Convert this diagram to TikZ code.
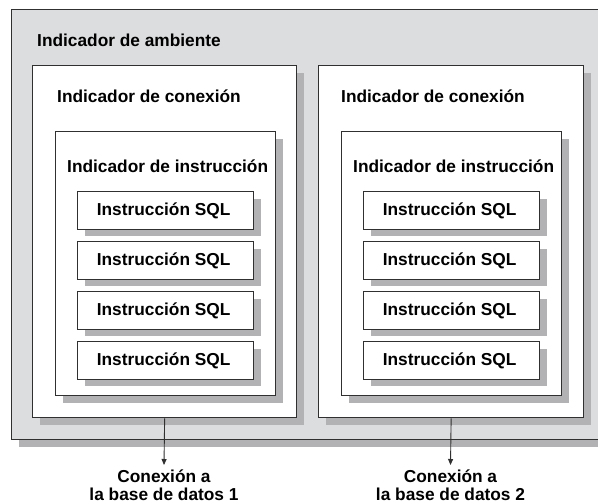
\documentclass[tikz,border=0pt]{standalone}
\usepackage{fontspec}
\setmainfont{Liberation Sans}
\usetikzlibrary{shadows,arrows.meta}
\definecolor{outerfill}{HTML}{DCDDDF}
\definecolor{shadowgray}{HTML}{B2B2B4}
\definecolor{linegray}{HTML}{303030}
\tikzset{
  box/.style={draw=linegray, line width=1.3pt, anchor=north west, inner sep=0pt,
    general shadow={fill=shadowgray, shadow xshift=7pt, shadow yshift=-7pt}},
  whitebox/.style={box, fill=white},
  lbl/.style={font=\fontsize{17.3}{20}\selectfont\bfseries, text=black, inner sep=0pt},
  conn/.style={draw=linegray, line width=0.9pt, -{Triangle[length=6pt,width=5pt]}}
}
\begin{document}
\begin{tikzpicture}[x=1pt,y=-1pt]
\useasboundingbox (0,0) rectangle (598,504);
\clip (0,0) rectangle (598,504);
\fill[white] (0,0) rectangle (598,504);
% outer
\node[box, fill=outerfill, minimum width=610pt, minimum height=430pt] (env) at (11,9) {};
\node[lbl, anchor=base west] (envl) at (37,46) {Indicador de ambiente};
% connections
\node[whitebox, minimum width=264pt, minimum height=352pt] (c1) at (32,65) {};
\node[whitebox, minimum width=265pt, minimum height=352pt] (c2) at (318,65) {};
\node[lbl, anchor=base west] (c1l) at (57,102) {Indicador de conexión};
\node[lbl, anchor=base west] (c2l) at (341,102) {Indicador de conexión};
% instruction boxes
\node[whitebox, minimum width=220pt, minimum height=264pt] (i1) at (55,131) {};
\node[whitebox, minimum width=220pt, minimum height=264pt] (i2) at (341,131) {};
\node[lbl, anchor=base west] (i1l) at (67,172) {Indicador de instrucción};
\node[lbl, anchor=base west] (i2l) at (353,172) {Indicador de instrucción};
% SQL boxes
\foreach \k in {0,1,2,3}{
  \node[whitebox, minimum width=176pt, minimum height=37.5pt] (s1\k) at (77,{191+50*\k}) {};
  \node[lbl] (t1\k) at ([xshift=-2pt]s1\k.center) {Instrucción SQL};
  \node[whitebox, minimum width=176pt, minimum height=37.5pt] (s2\k) at (363,{191+50*\k}) {};
  \node[lbl] (t2\k) at ([xshift=-2pt]s2\k.center) {Instrucción SQL};
}
% connectors
\coordinate (e1) at (164,465);
\coordinate (e2) at (450.5,465);
\draw[conn] (c1.south) -- (e1);
\draw[conn] (c2.south) -- (e2);
\node[lbl, anchor=base] (d1a) at (164,482.5) {Conexión a};
\node[lbl, anchor=base] (d1b) at (164,500) {la base de datos 1};
\node[lbl, anchor=base] (d2a) at (450.5,482.5) {Conexión a};
\node[lbl, anchor=base] (d2b) at (450.5,500) {la base de datos 2};
\end{tikzpicture}
\end{document}
